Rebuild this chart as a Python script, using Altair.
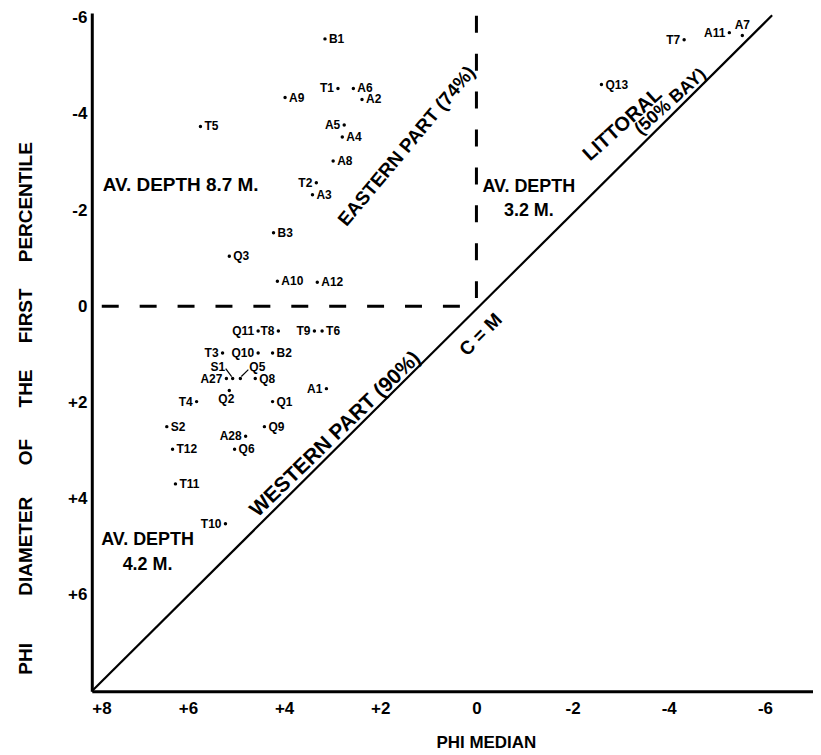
import altair as alt
import pandas as pd

# ---- data ----
names = ["B1", "T1", "A6", "A2", "A9", "T5", "A5", "A4", "A8", "T2", "A3", "B3", "Q3", "A10", "A12",
         "T7", "A11", "A7", "Q13",
         "Q11", "T8", "T9", "T6", "T3", "Q10", "B2", "A27", "S1", "Q5", "Q8", "Q2", "T4", "Q1", "A1",
         "S2", "Q9", "A28", "T12", "Q6", "T11", "T10"]
phi_median = [3.15, 2.88, 2.56, 2.38, 3.98, 5.74, 2.75, 2.79, 2.98, 3.33, 3.41, 4.22, 5.14, 4.14, 3.31,
              -4.32, -5.26, -5.53, -2.60,
              4.54, 4.12, 3.37, 3.21, 5.28, 4.54, 4.24, 5.20, 5.07, 4.91, 4.60, 5.14, 5.82, 4.24, 3.12,
              6.44, 4.41, 4.80, 6.32, 5.03, 6.26, 5.22]
phi_first = [-5.56, -4.53, -4.53, -4.30, -4.34, -3.74, -3.77, -3.52, -3.02, -2.57, -2.32, -1.53, -1.04, -0.52, -0.50,
             -5.54, -5.69, -5.63, -4.61,
             0.51, 0.51, 0.51, 0.51, 0.97, 0.97, 0.97, 1.50, 1.50, 1.50, 1.50, 1.75, 1.98, 1.98, 1.71,
             2.50, 2.50, 2.70, 2.97, 2.97, 3.69, 4.52]
label_side = ["R", "L", "R", "R", "R", "R", "L", "R", "R", "L", "R", "R", "R", "R", "R",
              "L", "L", "A", "R",
              "L", "L", "L", "R", "L", "L", "R", "L", "S1", "Q5", "R", "B", "L", "R", "L",
              "R", "R", "L", "R", "R", "R", "L"]

x_ticks = [8, 6, 4, 2, 0, -2, -4, -6]
y_ticks = [-6, -4, -2, 0, 2, 4, 6]

diag_x = [8, -6.15]
diag_y = [8, -6.05]

FONT = "Liberation Sans"
NB = "\u00a0"

y_title = (f"PHI{NB*9}DIAMETER{NB*6}OF{NB*6}THE{NB*5}FIRST{NB*5}PERCENTILE")

pts = pd.DataFrame({"name": names, "m": phi_median, "c": phi_first, "side": label_side})

xs = alt.Scale(domain=[-7.0, 8.0], reverse=True, nice=False, zero=False)
ys = alt.Scale(domain=[-6.1, 8.0], reverse=True, nice=False, zero=False)

lab_expr = "datum.value > 0 ? '+' + datum.value : '' + datum.value"

X = alt.X("m:Q", scale=xs, axis=alt.Axis(
    values=x_ticks, labelExpr=lab_expr, title="PHI MEDIAN", titleX=395, titleY=51,
    titleAlign="center", titleBaseline="middle", titleFontSize=17,
    labelPadding=9, grid=False, ticks=False))
Y = alt.Y("c:Q", scale=ys, axis=alt.Axis(
    values=y_ticks, labelExpr=lab_expr, title=y_title,
    titleX=-66, titleY=396, titleAngle=270, titleAlign="center", titleBaseline="middle",
    titleFontSize=19, labelPadding=5, grid=False, ticks=False))

base = alt.Chart(pts)

dots = base.mark_point(filled=True, color="black", size=12, opacity=1).encode(x=X, y=Y)


def labels(side, **kw):
    return base.transform_filter(alt.datum.side == side).mark_text(
        font=FONT, fontSize=12, fontWeight="bold", color="black", **kw
    ).encode(x=alt.X("m:Q", scale=xs), y=alt.Y("c:Q", scale=ys), text="name:N")


lab_r = labels("R", align="left", baseline="middle", dx=4)
lab_l = labels("L", align="right", baseline="middle", dx=-4)
lab_a = labels("A", align="center", baseline="bottom", dy=-4)
lab_b = labels("B", align="center", baseline="top", dy=3, dx=-3)
lab_s1 = labels("S1", align="center", baseline="middle", dx=-15, dy=-12)
lab_q5 = labels("Q5", align="center", baseline="middle", dx=17, dy=-12)

arrow_s1 = base.transform_filter(alt.datum.side == "S1").mark_rule(
    color="black", strokeWidth=1.2, xOffset=-1, yOffset=-2, x2Offset=-7, y2Offset=-10
).encode(x=alt.X("m:Q", scale=xs), x2="m:Q", y=alt.Y("c:Q", scale=ys), y2="c:Q")
arrow_q5 = base.transform_filter(alt.datum.side == "Q5").mark_rule(
    color="black", strokeWidth=1.2, xOffset=1, yOffset=-2, x2Offset=8, y2Offset=-9
).encode(x=alt.X("m:Q", scale=xs), x2="m:Q", y=alt.Y("c:Q", scale=ys), y2="c:Q")

diag = alt.Chart(pd.DataFrame({"m": diag_x, "c": diag_y})).mark_line(
    color="black", strokeWidth=2.2).encode(x=alt.X("m:Q", scale=xs), y=alt.Y("c:Q", scale=ys))

hdash = alt.Chart(pd.DataFrame({"m": [8.0], "m2": [0.0], "c": [0.0]})).mark_rule(
    color="black", strokeWidth=3, strokeDash=[17, 21], strokeDashOffset=-10
).encode(x=alt.X("m:Q", scale=xs), x2="m2:Q", y=alt.Y("c:Q", scale=ys))
vdash = alt.Chart(pd.DataFrame({"m": [0.0], "c": [-6.04], "c2": [0.0]})).mark_rule(
    color="black", strokeWidth=3, strokeDash=[17, 21]
).encode(x=alt.X("m:Q", scale=xs), y=alt.Y("c:Q", scale=ys), y2="c2:Q")


def note(txt, xv, yv, size=18, angle=0, align="center", line_h=None):
    kw = dict(font=FONT, fontSize=size, fontWeight="bold", color="black",
              align=align, baseline="middle", angle=angle)
    if line_h:
        kw.update(lineBreak="\n", lineHeight=line_h)
    return alt.Chart(pd.DataFrame({"m": [xv], "c": [yv], "t": [txt]})).mark_text(**kw).encode(
        x=alt.X("m:Q", scale=xs), y=alt.Y("c:Q", scale=ys), text="t:N")


notes = [
    note("AV. DEPTH 8.7 M.", 7.77, -2.53, size=19, align="left"),
    note("AV. DEPTH\n3.2 M.", -1.09, -2.48, line_h=24),
    note("AV. DEPTH\n4.2 M.", 6.84, 4.85, line_h=25),
    note("EASTERN PART (74%)", 1.45, -3.33, size=19, angle=310),
    note("LITTORAL", -3.04, -3.78, size=20, angle=318),
    note("(50% BAY)", -4.04, -4.25, size=18, angle=318),
    note("WESTERN PART (90%)", 2.93, 2.66, size=21, angle=316),
    note("C = M", -0.09, 0.59, size=19, angle=315),
]

chart = alt.layer(
    hdash, vdash, diag, dots, lab_r, lab_l, lab_a, lab_b, lab_s1, lab_q5, arrow_s1, arrow_q5, *notes
).properties(
    width=723, height=680,
    autosize=alt.AutoSizeParams(type="none"),
    padding={"left": 84, "top": 4, "right": 0, "bottom": 60},
).configure_view(stroke=None).configure_axis(
    domainColor="black", domainWidth=3, labelColor="black", labelFont=FONT, labelFontSize=17,
    labelFontWeight="bold", titleFont=FONT, titleFontWeight="bold", titleColor="black"
)

chart.save("out.html", embed_options={"renderer": "svg", "actions": False})
